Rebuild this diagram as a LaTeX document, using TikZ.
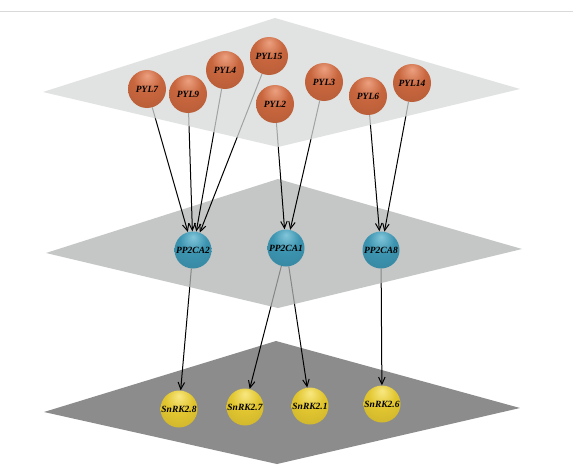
\documentclass[tikz,border=0pt]{standalone}
\usepackage{fontspec}
\setmainfont{Liberation Serif}
\usetikzlibrary{arrows.meta}
\definecolor{planeA}{RGB}{216,217,217}
\definecolor{planeB}{RGB}{178,179,179}
\definecolor{planeC}{RGB}{140,140,140}
\definecolor{orbase}{RGB}{200,102,62}
\definecolor{orhl}{RGB}{236,160,128}
\definecolor{blbase}{RGB}{60,148,176}
\definecolor{blhl}{RGB}{130,198,218}
\definecolor{ylbase}{RGB}{226,198,48}
\definecolor{ylhl}{RGB}{248,232,130}
\pgfdeclareradialshading{orball}{\pgfpoint{0bp}{18bp}}{color(0bp)=(orhl); color(18bp)=(orbase); color(45bp)=(orbase!88!black); color(70bp)=(orbase!65!black)}
\pgfdeclareradialshading{blball}{\pgfpoint{0bp}{18bp}}{color(0bp)=(blhl); color(18bp)=(blbase); color(45bp)=(blbase!88!black); color(70bp)=(blbase!65!black)}
\pgfdeclareradialshading{ylball}{\pgfpoint{0bp}{18bp}}{color(0bp)=(ylhl); color(18bp)=(ylbase); color(45bp)=(ylbase!88!black); color(70bp)=(ylbase!65!black)}
\tikzset{
  sphere/.style={circle, inner sep=0pt, minimum size=#1, font=\fontsize{9.5}{11}\selectfont\bfseries\itshape},
  sphere/.default=38pt,
  pyl/.style={sphere=38pt, shading=orball},
  pp/.style={sphere=37pt, shading=blball},
  snrk/.style={sphere=37pt, shading=ylball},
  link/.style={draw=black, line width=1pt, -{Straight Barb[length=7pt,width=6.5pt]}},
  plane/.style={fill opacity=0.75}
}
\begin{document}
\begin{tikzpicture}[x=1pt,y=-1pt]
\useasboundingbox (0,0) rectangle (573,471);
\fill[white] (0,0) rectangle (573,471);
\draw[black!15, line width=1pt] (0,11) -- (573,11);
% bottom plane
\fill[planeC] (276,341) -- (520,408) -- (277,464) -- (44,412) -- cycle;
\node[snrk] (s28) at (179,409) {SnRK2.8};
\node[snrk] (s27) at (245,407) {SnRK2.7};
\node[snrk] (s21) at (310,406) {SnRK2.1};
\node[snrk] (s26) at (382,404) {SnRK2.6};
% middle level positions and edges to bottom
\coordinate (m2) at (193,250);
\coordinate (m1) at (286,248);
\coordinate (m8) at (381,250);
\node[sphere=37pt] (pc2) at (m2) {};
\node[sphere=37pt] (pc1) at (m1) {};
\node[sphere=37pt] (pc8) at (m8) {};
\draw[link] (pc2) -- (s28);
\draw[link] (pc1) -- (s27);
\draw[link] (pc1) -- (s21);
\draw[link] (pc8) -- (s26);
% middle plane
\fill[planeB, plane] (278,179) -- (522,249) -- (278,308) -- (46,253) -- cycle;
\node[pp] (a2) at (m2) {PP2CA2};
\node[pp] (a1) at (m1) {PP2CA1};
\node[pp] (a8) at (m8) {PP2CA8};
% top positions and edges to middle
\coordinate (t7) at (147,89);
\coordinate (t9) at (188,94);
\coordinate (t4) at (225,70);
\coordinate (t15) at (269,56);
\coordinate (t2) at (275,104);
\coordinate (t3) at (324,82);
\coordinate (t6) at (368,96);
\coordinate (t14) at (412,83);
\node[sphere=38pt] (q7) at (t7) {};
\node[sphere=38pt] (q9) at (t9) {};
\node[sphere=38pt] (q4) at (t4) {};
\node[sphere=38pt] (q15) at (t15) {};
\node[sphere=38pt] (q2) at (t2) {};
\node[sphere=38pt] (q3) at (t3) {};
\node[sphere=38pt] (q6) at (t6) {};
\node[sphere=38pt] (q14) at (t14) {};
\draw[link] (q7) -- (a2);
\draw[link] (q9) -- (a2);
\draw[link] (q4) -- (a2);
\draw[link] (q15) -- (a2);
\draw[link] (q2) -- (a1);
\draw[link] (q3) -- (a1);
\draw[link] (q6) -- (a8);
\draw[link] (q14) -- (a8);
% top plane
\fill[planeA, plane] (275,18) -- (520,89) -- (278,147) -- (43,92) -- cycle;
\node[pyl] (p7) at (t7) {PYL7};
\node[pyl] (p9) at (t9) {PYL9};
\node[pyl] (p4) at (t4) {PYL4};
\node[pyl] (p15) at (t15) {PYL15};
\node[pyl] (p2) at (t2) {PYL2};
\node[pyl] (p3) at (t3) {PYL3};
\node[pyl] (p6) at (t6) {PYL6};
\node[pyl] (p14) at (t14) {PYL14};
\end{tikzpicture}
\end{document}
